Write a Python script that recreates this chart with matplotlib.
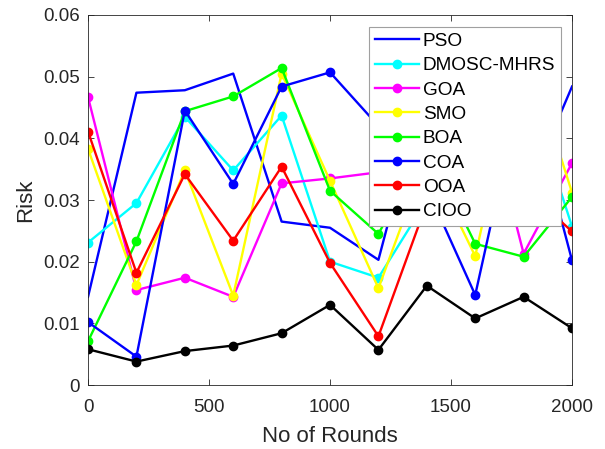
import matplotlib
matplotlib.use('Agg')
import matplotlib.pyplot as plt
from matplotlib.ticker import FuncFormatter

# Данные
rounds = [0, 200, 400, 600, 800, 1000, 1200, 1400, 1600, 1800, 2000]

pso = [0.0143, 0.0474, 0.0478, 0.0505, 0.0265, 0.0255, 0.0203, 0.0500, 0.0350, 0.0300, 0.0484]
dmosc = [0.0231, 0.0295, 0.0435, 0.0348, 0.0437, 0.0200, 0.0174, 0.0300, 0.0380, 0.0500, 0.0257]
goa = [0.0467, 0.0154, 0.0174, 0.0143, 0.0327, 0.0335, 0.0345, 0.0400, 0.0520, 0.0213, 0.0360]
smo = [0.0383, 0.0162, 0.0348, 0.0145, 0.0505, 0.0331, 0.0157, 0.0370, 0.0209, 0.0560, 0.0312]
boa = [0.0071, 0.0233, 0.0444, 0.0468, 0.0514, 0.0315, 0.0245, 0.0390, 0.0229, 0.0208, 0.0305]
coa = [0.0102, 0.0046, 0.0445, 0.0326, 0.0484, 0.0507, 0.0420, 0.0320, 0.0146, 0.0500, 0.0202]
ooa = [0.0411, 0.0182, 0.0342, 0.0234, 0.0354, 0.0198, 0.0079, 0.0295, 0.0350, 0.0320, 0.0249]
cioo = [0.0058, 0.0038, 0.0055, 0.0064, 0.0084, 0.0130, 0.0057, 0.0161, 0.0108, 0.0143, 0.0092]

series = [
    ('PSO', pso, (0, 0, 1), None),
    ('DMOSC-MHRS', dmosc, (0, 1, 1), 'o'),
    ('GOA', goa, (1, 0, 1), 'o'),
    ('SMO', smo, (1, 1, 0), 'o'),
    ('BOA', boa, (0, 1, 0), 'o'),
    ('COA', coa, (0, 0, 1), 'o'),
    ('OOA', ooa, (1, 0, 0), 'o'),
    ('CIOO', cioo, (0, 0, 0), 'o'),
]

plt.rcParams['font.family'] = ['Liberation Sans', 'DejaVu Sans']

fig = plt.figure(figsize=(6.05, 4.49), dpi=100)
ax = fig.add_axes([0.1455, 0.1425, 0.8, 0.8241])

for name, vals, col, mk in series:
    ax.plot(rounds, vals, color=col, marker=mk, markersize=6, linewidth=1.7, label=name)

ax.set_xlim(0, 2000)
ax.set_ylim(0, 0.06)
ax.set_xticks([0, 500, 1000, 1500, 2000])
ax.set_yticks([0, 0.01, 0.02, 0.03, 0.04, 0.05, 0.06])
ax.yaxis.set_major_formatter(FuncFormatter(lambda v, p: '%g' % round(v, 3)))

ax.tick_params(direction='in', top=True, right=True, labelsize=13.5,
               colors='#262626', length=4, width=0.6)
ax.tick_params(axis='x', pad=10)
ax.tick_params(axis='y', pad=6)
for s in ax.spines.values():
    s.set_color('#262626')
    s.set_linewidth(0.6)

ax.set_xlabel('No of Rounds', fontsize=16, color='#262626', labelpad=7)
ax.set_ylabel('Risk', fontsize=16, color='#262626', labelpad=5)

leg = ax.legend(loc='upper right', bbox_to_anchor=(0.977, 0.968), fontsize=13.7,
                labelspacing=0.37, handlelength=2.3, handletextpad=0.2,
                borderpad=0.3, borderaxespad=0, fancybox=False, framealpha=1)
leg.get_frame().set_edgecolor('#a0a0a0')
leg.get_frame().set_linewidth(0.8)

fig.savefig('out.png', dpi=100)
